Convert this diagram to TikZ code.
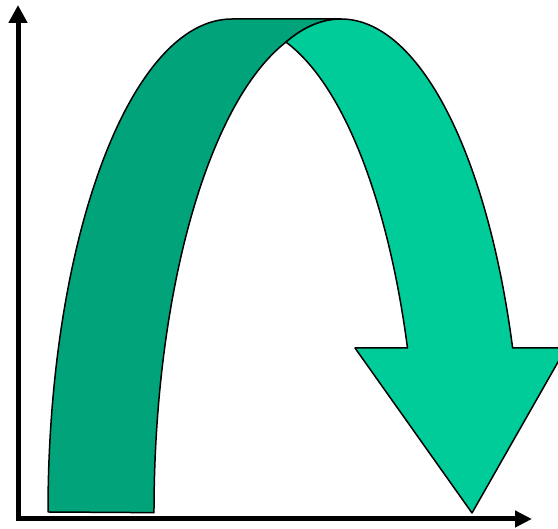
\documentclass[tikz,border=0pt]{standalone}
\usepackage{tikz}
\usetikzlibrary{arrows.meta}
\usepackage{xcolor}
\definecolor{bendback}{RGB}{0,163,122}
\definecolor{bendfront}{RGB}{0,204,153}

\begin{document}
\begin{tikzpicture}[x=1pt, y=1pt,
    band/.style={draw=black, line width=1.5pt, line join=round},
    axis/.style={line width=5pt, line join=miter}]
  \useasboundingbox (0,0) rectangle (558,529);
  \clip (0,0) rectangle (558,529);
  % axes
  \coordinate (origin) at (18,10);
  \coordinate (ytip) at (18,524);
  \coordinate (xtip) at (532,10);
  \draw[axis, {Triangle[length=18pt, width=18pt]}-{Triangle[length=17pt, width=16pt]}]
    (ytip) -- (origin) -- (xtip);
  % back half of the bend
  \fill[bendback, band] (48,17)
    arc[start angle=180, end angle=90, x radius=184, y radius=493]
    -- (341,510)
    arc[start angle=90, end angle=107.59, x radius=182, y radius=493]
    arc[start angle=106.18, end angle=180, x radius=183, y radius=490]
    -- cycle;
  % front half with the head
  \fill[bendfront, band] (341,510)
    arc[start angle=90, end angle=19.43, x radius=182, y radius=493]
    -- (566,181) -- (472,16) -- (355,181) -- (407.5,181)
    arc[start angle=19.68, end angle=74.78, x radius=179, y radius=487]
    arc[start angle=107.59, end angle=90, x radius=182, y radius=493]
    -- cycle;
\end{tikzpicture}
\end{document}
